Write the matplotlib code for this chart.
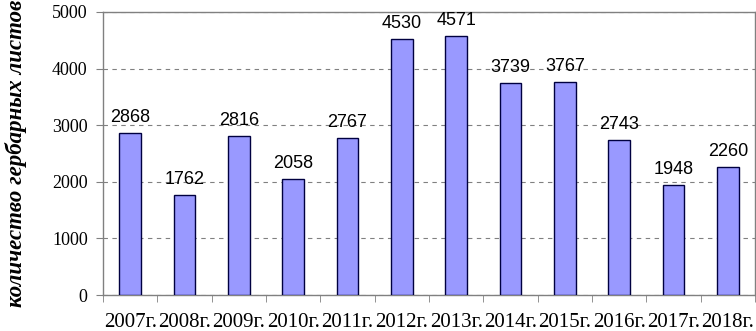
import matplotlib
matplotlib.use("Agg")
import matplotlib.pyplot as plt
import numpy as np

years = ["2007г.", "2008г.", "2009г.", "2010г.", "2011г.", "2012г.", "2013г.",
         "2014г.", "2015г.", "2016г.", "2017г.", "2018г."]
values = [2868, 1762, 2816, 2058, 2767, 4530, 4571, 3739, 3767, 2743, 1948, 2260]
yticks = [0, 1000, 2000, 3000, 4000, 5000]
ylabel = "количество гербарных листов"

fig = plt.figure(figsize=(7.56, 3.31), dpi=100)
ax = fig.add_axes([103/756, 36/331, 652/756, 283/331])

x = np.arange(len(years))
ax.bar(x, values, width=0.4, color="#9999FF", edgecolor="#000040", linewidth=1.0, zorder=3)
for xi, v in zip(x, values):
    ax.annotate(str(v), (xi, v), xytext=(0, 5), textcoords="offset points",
                ha="center", va="bottom", fontsize=13, family="Liberation Sans", zorder=4)

ax.set_xlim(-0.5, len(years) - 0.5)
ax.set_ylim(0, 5000)
ax.set_yticks(yticks)
ax.set_yticklabels([str(t) for t in yticks], family="Liberation Serif", fontsize=13)
ax.yaxis.grid(True, linestyle=(0, (4, 4)), color="#808080", linewidth=0.8, zorder=0)

ax.set_xticks(x)
ax.set_xticklabels(years, family="Liberation Serif", fontsize=15)
ax.tick_params(axis="x", which="major", length=0, pad=13)
ax.set_xticks(np.arange(-0.5, len(years)), minor=True)
ax.tick_params(axis="x", which="minor", length=5, color="#808080", direction="out")
ax.tick_params(axis="y", length=5, color="#808080", direction="out", pad=6)

for s in ax.spines.values():
    s.set_color("#808080")
    s.set_linewidth(1.0)

fig.text(16/756, 24/331, ylabel, rotation=90, ha="center", va="bottom",
         family="Liberation Serif", fontstyle="italic", fontweight="bold", fontsize=16.5)

fig.savefig("out.png", dpi=100)
